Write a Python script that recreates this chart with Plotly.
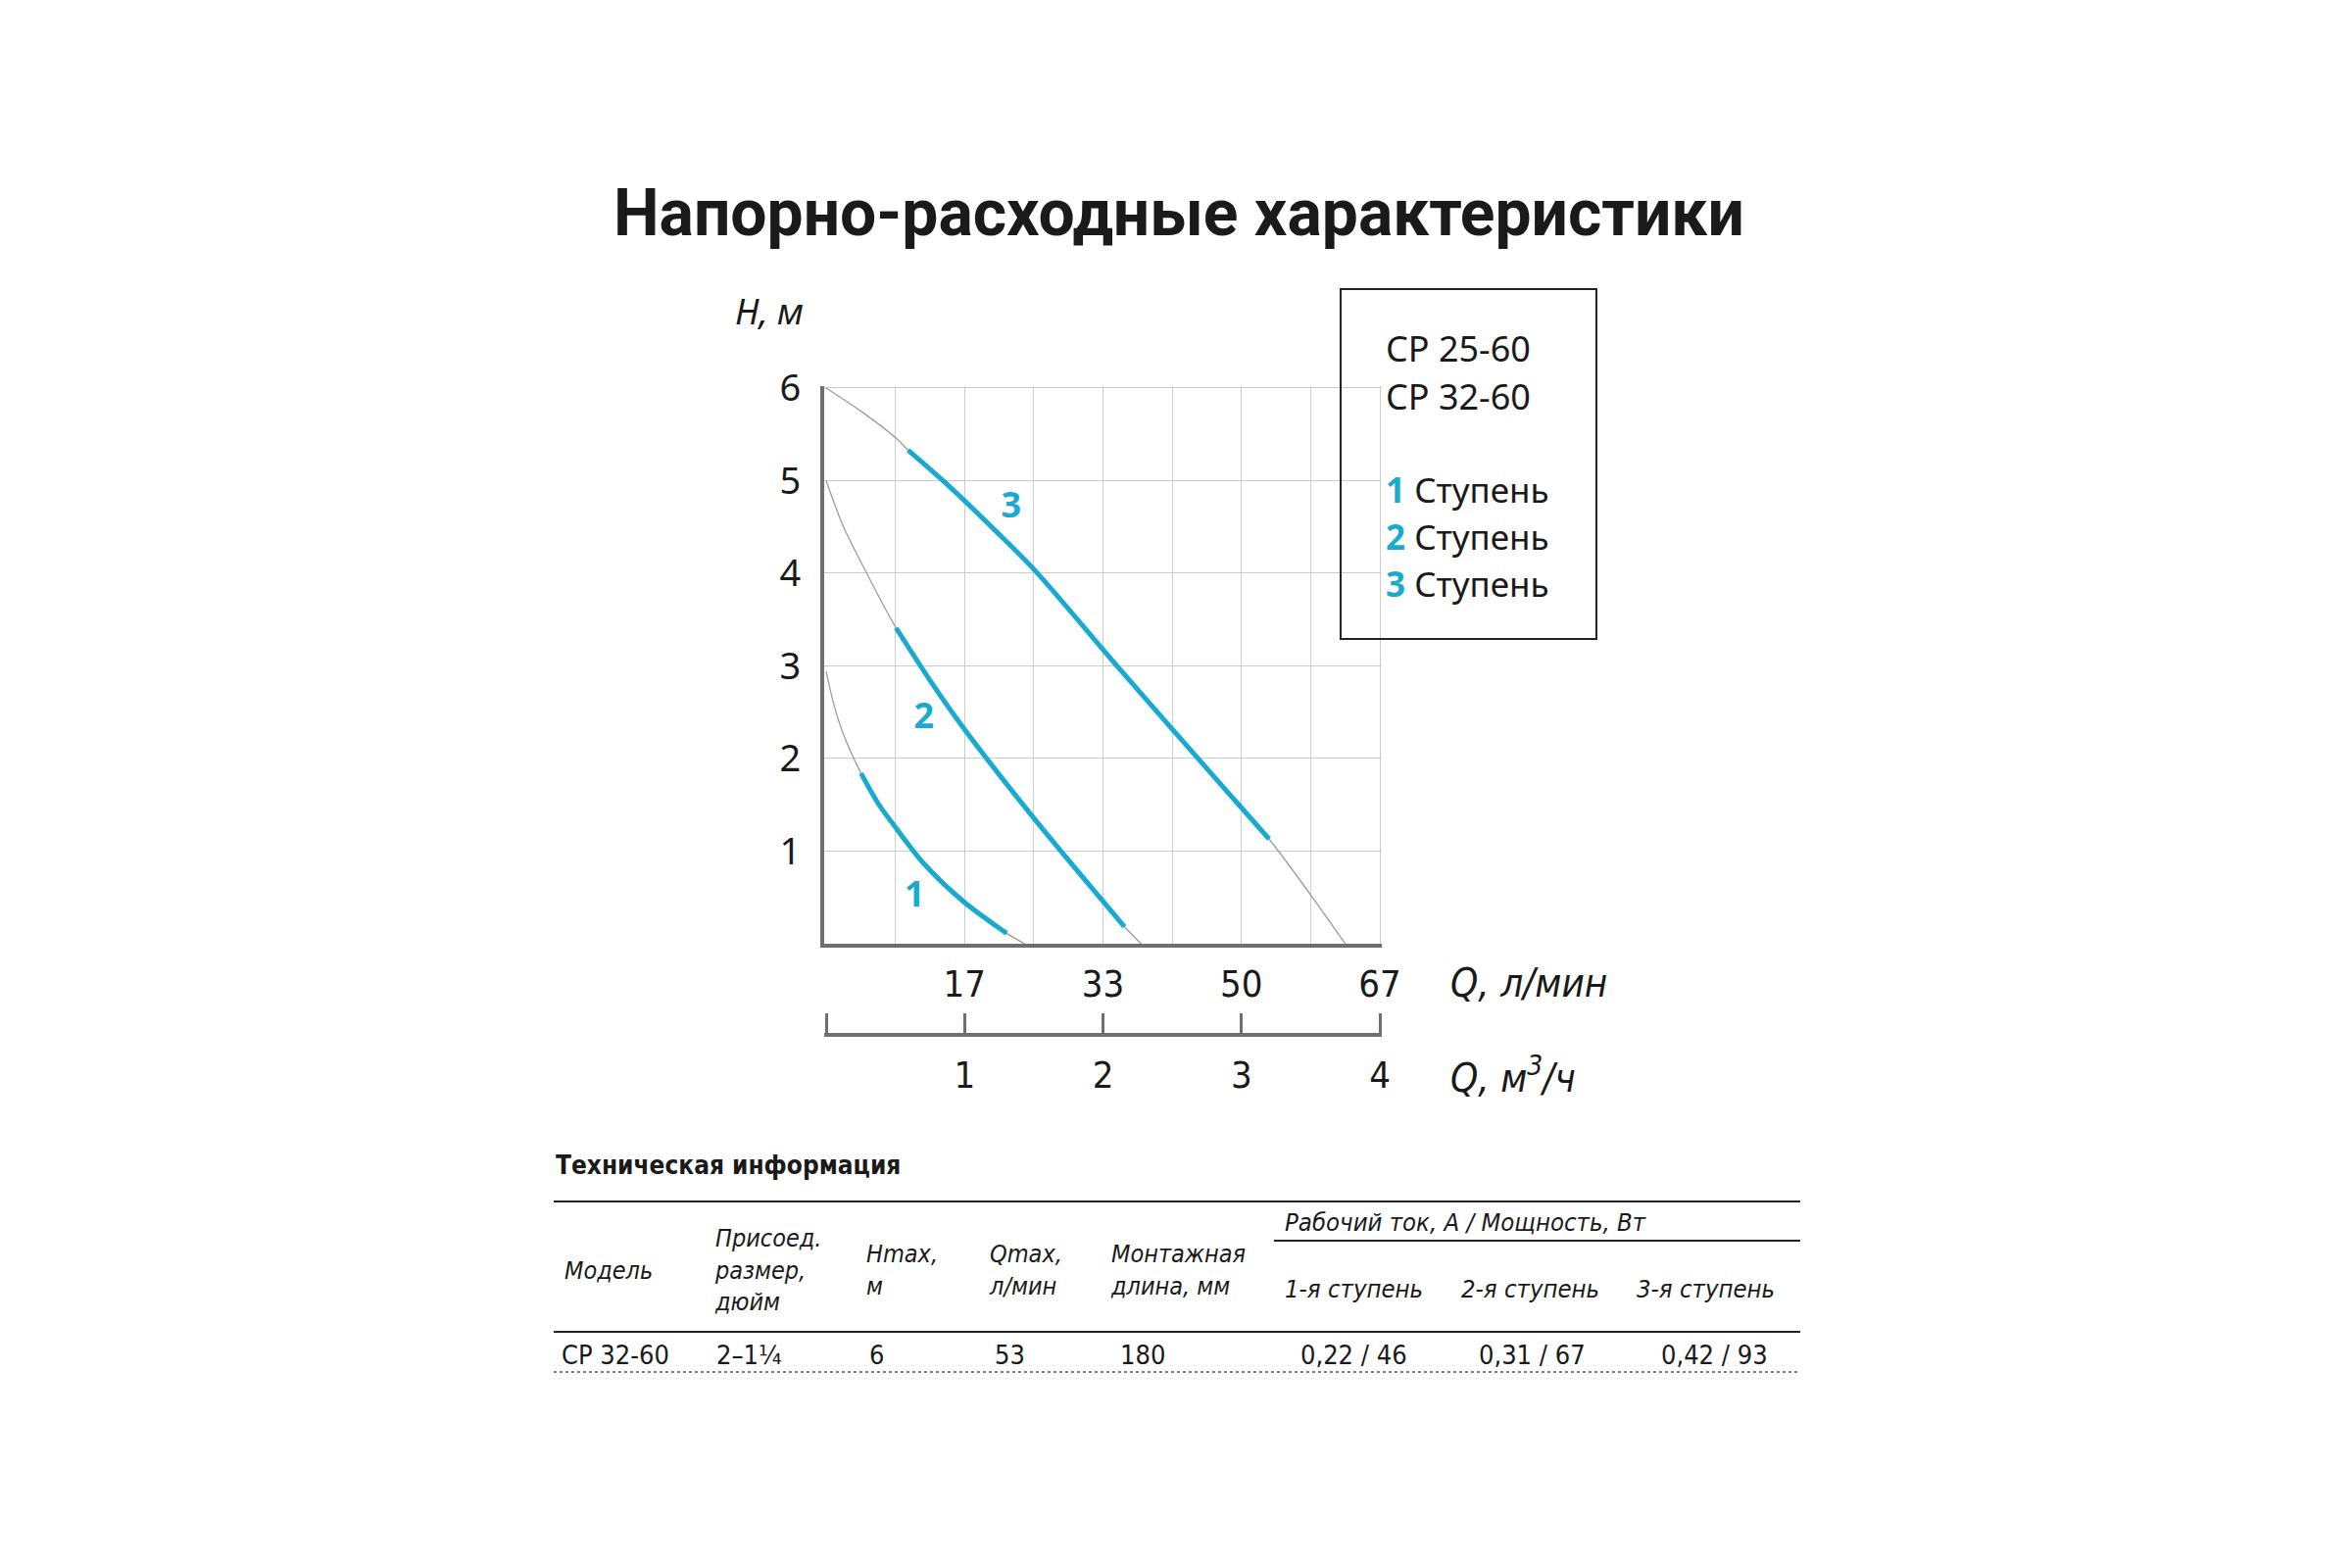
import plotly.graph_objects as go

W, H = 2400, 1600
OFF = 8  # page body margin of the browser

# ---------------- data ----------------
title_text = "Напорно-расходные характеристики"

# full pump curves (gray), Q in m3/h, H in m
curve1_x = [0, 0.058, 0.123, 0.252, 0.382, 0.505, 0.706, 0.997, 1.304, 1.434]
curve1_y = [2.94, 2.57, 2.27, 1.84, 1.50, 1.25, 0.865, 0.45, 0.112, 0.0]
curve2_x = [0, 0.123, 0.252, 0.505, 0.770, 0.997, 1.515, 2.155, 2.275]
curve2_y = [5.0, 4.51, 4.12, 3.41, 2.80, 2.32, 1.33, 0.185, 0.0]
curve3_x = [0, 0.252, 0.505, 0.592, 0.867, 1.223, 1.515, 2.13, 2.84, 3.20, 3.49, 3.75]
curve3_y = [6.0, 5.75, 5.46, 5.33, 4.97, 4.46, 4.02, 2.95, 1.74, 1.13, 0.55, 0.0]

# working ranges (blue)
stage1_x = [0.252, 0.382, 0.505, 0.706, 0.997, 1.304]
stage1_y = [1.84, 1.50, 1.25, 0.865, 0.45, 0.112]
stage2_x = [0.505, 0.770, 0.997, 1.515, 2.155]
stage2_y = [3.41, 2.80, 2.32, 1.33, 0.185]
stage3_x = [0.592, 0.867, 1.223, 1.515, 2.13, 2.84, 3.20]
stage3_y = [5.33, 4.97, 4.46, 4.02, 2.95, 1.74, 1.13]

stage_names = ["1", "2", "3"]
stage_label_x = [0.64, 0.706, 1.337]
stage_label_y = [0.50, 2.42, 4.70]

y_ticks = [1, 2, 3, 4, 5, 6]
half_grid_x = [0.5, 1.5, 2.5, 3.5]
m3h_ticks = [1, 2, 3, 4]
m3h_labels = ["1", "2", "3", "4"]
m3h_start = [0]
lmin_pos = [1, 2, 3, 4]
lmin_labels = ["17", "33", "50", "67"]

legend_models = ["CP 25-60", "CP 32-60"]
legend_stage_word = "Ступень"

table_title = "Техническая информация"
table_headers = ["Модель", "Присоед.<br>размер,<br>дюйм", "Hmax,<br>м", "Qmax,<br>л/мин", "Монтажная<br>длина, мм"]
group_header = "Рабочий ток, А / Мощность, Вт"
stage_headers = ["1-я ступень", "2-я ступень", "3-я ступень"]
row_values = ["CP 32-60", "2–1¼", "6", "53", "180"]
stage_values = ["0,22 / 46", "0,31 / 67", "0,42 / 93"]

# ---------------- style ----------------
BLUE = "#19aad0"
GRAYC = "#9c9c9c"
GRID = "#cccccc"
AXIS = "#6f6f6f"
TXT = "#1a1a1a"
NARROW = "DejaVu Sans Condensed, Roboto, sans-serif"
REG = "Noto Sans"
TITLEF = "Roboto"

# small range padding so that edge grid lines / ticks are not clipped
EX = 0.016
EY = 0.025
PLOT_L, PLOT_R, PLOT_T, PLOT_B = 843, 1408, 396, 963
padx = EX * (PLOT_R - PLOT_L) / 4
pady = EY * (PLOT_B - PLOT_T) / 6


def px(x):
    return (x - OFF) / W


def py(y):
    return 1 - (y - OFF) / H


fig = go.Figure()

for cx, cy in [(curve1_x, curve1_y), (curve2_x, curve2_y), (curve3_x, curve3_y)]:
    fig.add_trace(go.Scatter(x=cx, y=cy, mode="lines", line=dict(color=GRAYC, width=1.3, shape="spline", smoothing=0.8),
                             hoverinfo="skip", showlegend=False))
for sx, sy in [(stage1_x, stage1_y), (stage2_x, stage2_y), (stage3_x, stage3_y)]:
    fig.add_trace(go.Scatter(x=sx, y=sy, mode="lines", line=dict(color=BLUE, width=5, shape="spline", smoothing=0.8),
                             hoverinfo="skip", showlegend=False))

fig.add_trace(go.Scatter(x=stage_label_x, y=stage_label_y, mode="text", text=["<b>%s</b>" % s for s in stage_names],
                         textfont=dict(color=BLUE, size=36, family=REG), hoverinfo="skip", showlegend=False))

# invisible trace for second x axis
fig.add_trace(go.Scatter(x=[0, 4], y=[0, 0], xaxis="x2", yaxis="y", mode="markers",
                         marker=dict(opacity=0), hoverinfo="skip", showlegend=False))

fig.update_layout(
    width=W, height=H, margin=dict(l=0, r=0, t=0, b=0, autoexpand=False),
    paper_bgcolor="white", plot_bgcolor="white",
    xaxis=dict(domain=[px(PLOT_L - padx), px(PLOT_R + padx)], range=[-EX, 4 + EX], tickmode="array",
               tickvals=lmin_pos, ticktext=lmin_labels, showgrid=True, gridcolor=GRID, gridwidth=1,
               minor=dict(tickmode="array", tickvals=half_grid_x, showgrid=True, gridcolor=GRID, gridwidth=1, ticks=""),
               zeroline=False, showline=True, linecolor=AXIS, linewidth=4, ticks="", ticklabelstandoff=4,
               automargin=False, tickfont=dict(family=NARROW, size=38, color=TXT), fixedrange=True),
    xaxis2=dict(overlaying="x", anchor="free", position=py(1056), range=[-EX, 4 + EX], tickmode="array",
                tickvals=m3h_ticks, ticktext=m3h_labels, showgrid=False, zeroline=False, showline=True,
                linecolor=AXIS, linewidth=4, ticks="inside", ticklen=20, tickwidth=3, tickcolor=AXIS,
                minor=dict(tickmode="array", tickvals=m3h_start, ticks="inside", ticklen=20, tickwidth=3,
                           tickcolor=AXIS, showgrid=False),
                ticklabelstandoff=6, automargin=False,
                tickfont=dict(family=NARROW, size=38, color=TXT), fixedrange=True),
    yaxis=dict(domain=[py(PLOT_B), py(PLOT_T - pady)], range=[0, 6 + EY], tickmode="array", tickvals=y_ticks,
               showgrid=True, gridcolor=GRID, gridwidth=1, zeroline=False, showline=True, linecolor=AXIS,
               linewidth=4, ticks="", ticklabelstandoff=12, automargin=False,
               tickfont=dict(family=REG, size=38, color=TXT), fixedrange=True),
)

ann = []
# title
ann.append(dict(x=px(1203), y=py(218), text="<b>%s</b>" % title_text, showarrow=False,
                font=dict(family=TITLEF, size=66, color=TXT), xanchor="center", yanchor="middle"))
# axis titles
ann.append(dict(x=px(785), y=py(317), text="<i>H, м</i>", showarrow=False,
                font=dict(family=REG, size=36, color=TXT), xanchor="center", yanchor="middle"))
ann.append(dict(x=px(1478), y=py(1003), text="<i>Q, л/мин</i>", showarrow=False,
                font=dict(family=NARROW, size=40, color=TXT), xanchor="left", yanchor="middle"))
ann.append(dict(x=px(1478), y=py(1097), text="<i>Q, м<sup>3</sup>/ч</i>", showarrow=False,
                font=dict(family=NARROW, size=40, color=TXT), xanchor="left", yanchor="middle"))

# legend box
for i, m in enumerate(legend_models):
    ann.append(dict(x=px(1412), y=py(355 + 49 * i), text=m, showarrow=False,
                    font=dict(family=REG, size=36, color=TXT), xanchor="left", yanchor="middle"))
for i, s in enumerate(stage_names):
    ann.append(dict(x=px(1412), y=py(499 + 48 * i),
                    text="<b><span style='color:%s'>%s</span></b> %s" % (BLUE, s, legend_stage_word),
                    showarrow=False, font=dict(family=REG, size=35, color=TXT), xanchor="left", yanchor="middle"))

# table
ann.append(dict(x=px(565), y=py(1189), text="<b>%s</b>" % table_title, showarrow=False,
                font=dict(family=NARROW, size=26, color=TXT), xanchor="left", yanchor="middle"))
hdr_x = [574, 727, 882, 1007, 1131]
for hx, ht in zip(hdr_x, table_headers):
    ann.append(dict(x=px(hx), y=py(1296), text="<i>%s</i>" % ht, showarrow=False, align="left",
                    font=dict(family=NARROW, size=25, color=TXT), xanchor="left", yanchor="middle"))
ann.append(dict(x=px(1309), y=py(1247), text="<i>%s</i>" % group_header, showarrow=False,
                font=dict(family=NARROW, size=25.5, color=TXT), xanchor="left", yanchor="middle"))
st_x = [1309, 1489, 1668]
for sx, st in zip(st_x, stage_headers):
    ann.append(dict(x=px(sx), y=py(1315), text="<i>%s</i>" % st, showarrow=False,
                    font=dict(family=NARROW, size=25.5, color=TXT), xanchor="left", yanchor="middle"))
row_x = [(571, "left"), (729, "left"), (894, "center"), (1030, "center"), (1166, "center")]
for (rx, anc), rv in zip(row_x, row_values):
    ann.append(dict(x=px(rx), y=py(1382), text=rv, showarrow=False,
                    font=dict(family=NARROW, size=27, color=TXT), xanchor=anc, yanchor="middle"))
sv_x = [1381, 1563, 1749]
for vx, vv in zip(sv_x, stage_values):
    ann.append(dict(x=px(vx), y=py(1382), text=vv, showarrow=False,
                    font=dict(family=NARROW, size=27, color=TXT), xanchor="center", yanchor="middle"))

for a in ann:
    a["xref"] = "paper"
    a["yref"] = "paper"
fig.update_layout(annotations=ann)

shapes = [
    dict(type="rect", x0=px(1368), x1=px(1629), y0=py(652), y1=py(295), line=dict(color="#222222", width=2),
         fillcolor="rgba(0,0,0,0)"),
    dict(type="line", x0=px(565), x1=px(1837), y0=py(1226), y1=py(1226), line=dict(color="#222222", width=2)),
    dict(type="line", x0=px(1300), x1=px(1837), y0=py(1266), y1=py(1266), line=dict(color="#222222", width=2)),
    dict(type="line", x0=px(565), x1=px(1837), y0=py(1359), y1=py(1359), line=dict(color="#222222", width=2)),
    dict(type="line", x0=px(565), x1=px(1837), y0=py(1400), y1=py(1400), line=dict(color="#555555", width=1.5, dash="dot")),
]
for s in shapes:
    s["xref"] = "paper"
    s["yref"] = "paper"
fig.update_layout(shapes=shapes)

fig.write_html("out.html")
